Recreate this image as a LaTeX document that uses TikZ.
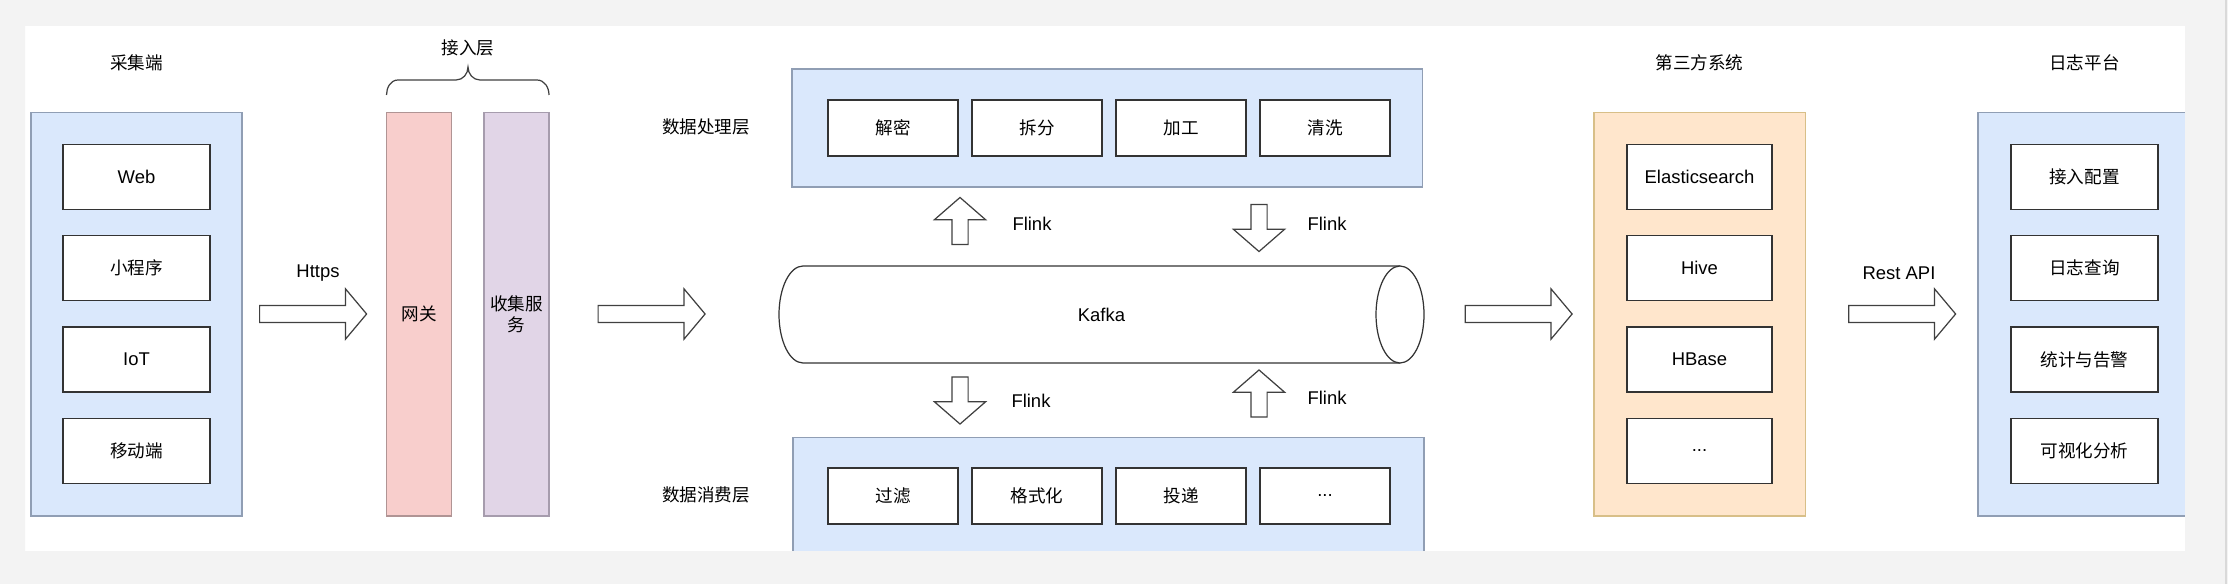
\documentclass[tikz,border=0pt]{standalone}
\usepackage{fontspec}
\setmainfont{Liberation Sans}
\newfontfamily\cjk{Noto Sans CJK SC}
\usetikzlibrary{shapes.arrows}
\definecolor{pagegrey}{HTML}{F3F3F3}
\definecolor{bluefill}{HTML}{DAE8FC}
\definecolor{bluedraw}{HTML}{909EB4}
\definecolor{orangefill}{HTML}{FFE6CC}
\definecolor{orangedraw}{HTML}{D8BF88}
\definecolor{pinkfill}{HTML}{F8CECC}
\definecolor{pinkdraw}{HTML}{B09494}
\definecolor{purplefill}{HTML}{E1D5E7}
\definecolor{purpledraw}{HTML}{A69CAD}
\begin{document}
\begin{tikzpicture}[x=0.02cm, y=-0.02cm, font=\fontsize{10.5}{13}\selectfont,
    layer/.style={draw=bluedraw, fill=bluefill, line width=0.7pt},
    item/.style={draw=black!80, fill=white, line width=0.9pt, minimum width=2.94cm, minimum height=1.3cm},
    stage/.style={item, minimum width=2.6cm, minimum height=1.12cm},
    harrow/.style={draw=black!75, fill=white, line width=0.7pt, single arrow,
        inner xsep=0pt, inner ysep=0.16cm,
        single arrow head extend=0.33cm, single arrow tip angle=100,
        minimum height=2.14cm},
    varrow/.style={harrow, inner ysep=0.15cm, single arrow head extend=0.35cm,
        single arrow tip angle=98, minimum height=0.94cm}]
\useasboundingbox (0,0) rectangle (2228,584);
\fill[white] (0,0) rectangle (2228,584);

% collect side
\node[font=\cjk] (lcollect) at (136.5,63) {采集端};
\node[layer, minimum width=4.22cm, minimum height=8.07cm] (collect) at (136.5,314.25) {};
\node[item] (web) at (136.5,177) {Web};
\node[item, font=\cjk] (mini) at (136.5,268) {小程序};
\node[item] (iot) at (136.5,359.5) {IoT};
\node[item, font=\cjk] (mobile) at (136.5,451) {移动端};

\node[harrow] (a1) at (309.5,314) {};
\node (https) at (318,273) {Https};

% access layer
\node[font=\cjk] (laccess) at (468,48) {接入层};
\draw[black!75, line width=0.7pt] (386.5,95) to[out=90,in=180] (398,80) -- (456,80)
    to[out=0,in=-90] (468,67) to[out=-90,in=180] (480,80) -- (537,80) to[out=0,in=90] (549,95);
\node[draw=pinkdraw, fill=pinkfill, line width=0.7pt, minimum width=1.3cm, minimum height=8.07cm,
    font=\cjk] (gw) at (419,314.25) {网关};
\node[draw=purpledraw, fill=purplefill, line width=0.7pt, minimum width=1.3cm, minimum height=8.07cm,
    font=\cjk, align=center, inner sep=0pt] (gather) at (516.5,314.25) {收集服\\务};

\node[harrow] (a2) at (648,314) {};

% processing layer
\node[font=\cjk] (lproc) at (706,127) {数据处理层};
\node[layer, minimum width=12.61cm, minimum height=2.36cm] (proc) at (1107.25,128) {};
\node[stage, font=\cjk] (dec) at (893,128) {解密};
\node[stage, font=\cjk] (split) at (1037,128) {拆分};
\node[stage, font=\cjk] (work) at (1181,128) {加工};
\node[stage, font=\cjk] (clean) at (1325,128) {清洗};

\node[varrow, rotate=90] (f1) at (960,224.5) {};
\node (flink1) at (1032,224) {Flink};
\node[varrow, rotate=-90] (f2) at (1259,224.5) {};
\node (flink2) at (1327,224) {Flink};

% kafka pipe
\draw[black!80, fill=white, line width=0.7pt] (1400,266) -- (803,266)
    arc[start angle=90, end angle=270, x radius=0.48cm, y radius=0.97cm] -- (1400,363);
\draw[black!80, fill=white, line width=0.7pt] (1400,314.5) ellipse[x radius=0.48cm, y radius=0.97cm];
\node (kafka) at (1101.5,314.5) {Kafka};

\node[varrow, rotate=-90] (f3) at (960,397) {};
\node (flink3) at (1031,401) {Flink};
\node[varrow, rotate=90] (f4) at (1259,397) {};
\node (flink4) at (1327,398) {Flink};

% consuming layer
\node[font=\cjk] (lcons) at (706,495) {数据消费层};
\node[layer, minimum width=12.62cm, minimum height=2.65cm] (cons) at (1108.5,503.8) {};
\node[stage, font=\cjk] (filt) at (893,496) {过滤};
\node[stage, font=\cjk] (fmt) at (1037,496) {格式化};
\node[stage, font=\cjk] (deliv) at (1181,496) {投递};
\node[stage] (cmore) at (1325,496) {...};

\node[harrow] (a3) at (1515,314) {};

% third party
\node[font=\cjk] (lthird) at (1699.5,62.5) {第三方系统};
\node[draw=orangedraw, fill=orangefill, line width=0.7pt, minimum width=4.23cm,
    minimum height=8.07cm] (third) at (1699.75,314.25) {};
\node[item, minimum width=2.9cm] (es) at (1699.5,177) {Elasticsearch};
\node[item, minimum width=2.9cm] (hive) at (1699.5,268) {Hive};
\node[item, minimum width=2.9cm] (hbase) at (1699.5,359.5) {HBase};
\node[item, minimum width=2.9cm] (tmore) at (1699.5,451) {...};

\node[harrow] (a4) at (1898.5,314) {};
\node (rest) at (1899,273) {Rest API};

% log platform
\node[font=\cjk] (lplat) at (2084.5,62.5) {日志平台};
\node[layer, minimum width=4.64cm, minimum height=8.07cm] (plat) at (2094,314.25) {};
\node[item, font=\cjk] (cfg) at (2084.5,177) {接入配置};
\node[item, font=\cjk] (query) at (2084.5,268) {日志查询};
\node[item, font=\cjk] (stat) at (2084.5,359.5) {统计与告警};
\node[item, font=\cjk] (vis) at (2084.5,451) {可视化分析};

% page frame
\fill[pagegrey, even odd rule] (0,0) rectangle (2228,584) (25,26) rectangle (2185,551);
\draw[black!15, line width=0.6pt] (2226,0) -- (2226,584);
\end{tikzpicture}
\end{document}
